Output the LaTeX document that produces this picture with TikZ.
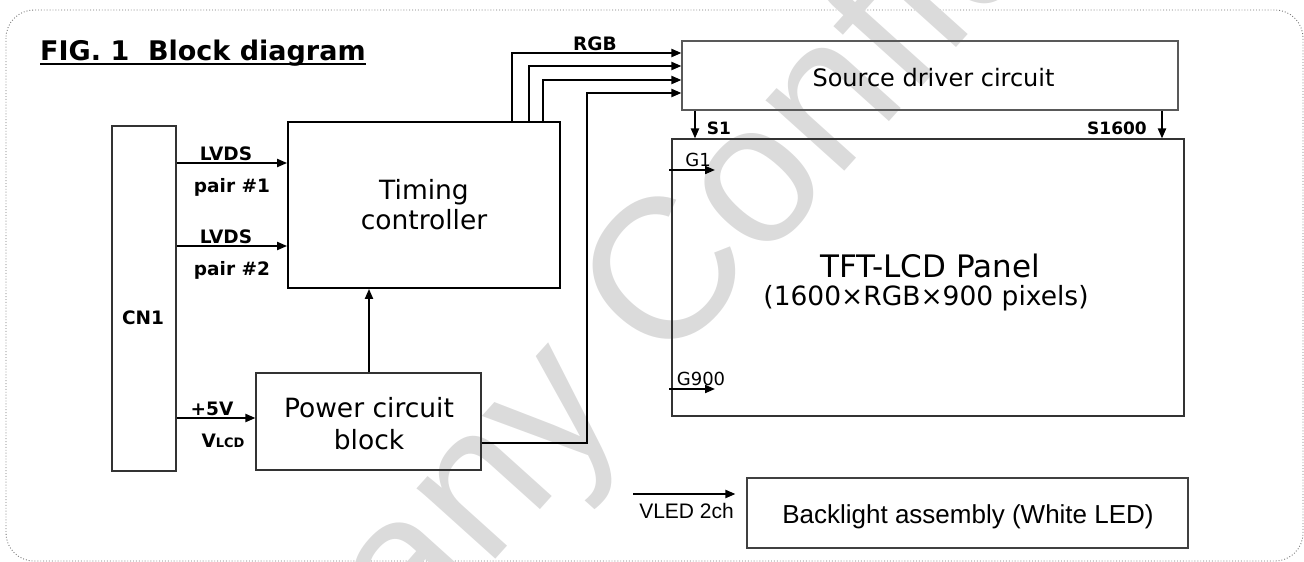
\documentclass[tikz,border=0pt]{standalone}
\usepackage{fontspec}
\setmainfont{DejaVu Sans}
\newfontfamily\arialf{Liberation Sans}
\usetikzlibrary{arrows.meta}
\begin{document}
\begin{tikzpicture}[x=1pt,y=-1pt,
  box/.style={draw=black!80, line width=1.1pt, inner sep=0pt},
  conn/.style={line width=2pt},
  arr/.style={conn, -{Triangle[length=10pt,width=8pt]}},
  lbl/.style={font=\fontsize{18.5}{20}\selectfont\bfseries, inner sep=0pt, anchor=base},
  gl/.style={font=\fontsize{18}{19}\selectfont, inner sep=0pt, anchor=base},
  txt/.style={inner sep=0pt, anchor=base},
]
\useasboundingbox (0,0) rectangle (1304,562);
\draw[black!55, dotted, line width=0.9pt, rounded corners=28pt] (6,10) rectangle (1303,561);

% watermark (light grey, behind the drawing)
\node[txt, anchor=base west, font=\arialf\fontsize{200}{200}\selectfont, text=black!14, rotate=48] (wm) at (55,1049) {Company Confidential};

% title
\node[txt, anchor=base west, font=\fontsize{27}{29}\selectfont\bfseries] (title) at (40,60) {FIG.\ 1\ \ Block diagram};
\draw[line width=1.4pt] ([yshift=-4pt]title.base west) -- ([yshift=-4pt]title.base east);

% boxes
\node[box, minimum width=64pt, minimum height=345pt] (cn1) at (144,298.5) {};
\node[lbl] (cn1t) at (143,324) {CN1};

\node[box, draw=black, line width=1.8pt, minimum width=272pt, minimum height=166pt] (tim) at (424,205) {};
\node[txt, font=\fontsize{26.5}{28}\selectfont] (tim1) at (424,199) {Timing};
\node[txt, font=\fontsize{26.5}{28}\selectfont] (tim2) at (424,229) {controller};

\node[box, minimum width=225pt, minimum height=97pt] (pow) at (368.5,421.5) {};
\node[txt, font=\fontsize{26.5}{28}\selectfont] (pow1) at (369,417) {Power circuit};
\node[txt, font=\fontsize{26.5}{28}\selectfont] (pow2) at (369,449) {block};

\node[box, draw=black!65, minimum width=496pt, minimum height=69pt] (src) at (930,75.5) {};
\node[txt, font=\fontsize{24}{26}\selectfont] (srct) at (933.5,86) {Source driver circuit};

\node[box, minimum width=512pt, minimum height=277pt] (tft) at (928,277.5) {};
\node[txt, font=\fontsize{31}{33}\selectfont] (tft1) at (930,277) {TFT-LCD Panel};
\node[txt, font=\fontsize{26.5}{28}\selectfont] (tft2) at (926,305) {(1600×RGB×900 pixels)};

\node[box, draw=black!75, minimum width=441pt, minimum height=70pt] (bl) at (967.5,513) {};
\node[txt, font=\arialf\fontsize{26}{28}\selectfont] (blt) at (968,523) {Backlight assembly (White LED)};

% CN1 -> timing / power
\coordinate (l1) at (0,163);
\coordinate (l2) at (0,246);
\coordinate (l5) at (0,418);
\draw[arr] (cn1.east |- l1) -- (tim.west |- l1);
\draw[arr] (cn1.east |- l2) -- (tim.west |- l2);
\draw[arr] (cn1.east |- l5) -- (pow.west |- l5);
\node[lbl] (lv1) at (226,160) {LVDS};
\node[lbl] (pr1) at (232,192) {pair \#1};
\node[lbl] (lv2) at (226,243) {LVDS};
\node[lbl] (pr2) at (232,275) {pair \#2};
\node[lbl] (p5v) at (212,415) {+5V};
\node[lbl] (vlcd) at (223,447) {V{\fontsize{13}{14}\selectfont LCD}};

% power -> timing
\coordinate (pv) at (369,0);
\draw[arr] (pow.north -| pv) -- (tim.south -| pv);

% RGB buses
\coordinate (r1) at (512,53);
\coordinate (r2) at (529,66);
\coordinate (r3) at (543,80);
\coordinate (r4) at (587,93);
\draw[arr] (tim.north -| r1) -- (r1) -- (src.west |- r1);
\draw[arr] (tim.north -| r2) -- (r2) -- (src.west |- r2);
\draw[arr] (tim.north -| r3) -- (r3) -- (src.west |- r3);
\coordinate (po) at (0,443);
\draw[arr] (pow.east |- po) -- (r4 |- po) -- (r4) -- (src.west |- r4);
\node[lbl] (rgb) at (595,50) {RGB};

% source -> panel
\coordinate (s1) at (695,0);
\coordinate (s2) at (1162,0);
\draw[arr] (src.south -| s1) -- (tft.north -| s1);
\draw[arr] (src.south -| s2) -- (tft.north -| s2);
\node[lbl, font=\fontsize{17}{19}\selectfont\bfseries] (s1t) at (719,134) {S1};
\node[lbl, font=\fontsize{17}{19}\selectfont\bfseries] (s2t) at (1117,134) {S1600};

% gate lines
\coordinate (g1) at (715,170);
\coordinate (g2) at (715,389);
\draw[arr] ([xshift=-2pt]tft.west |- g1) -- (g1);
\draw[arr] ([xshift=-2pt]tft.west |- g2) -- (g2);
\node[gl] (g1t) at (698,166) {G1};
\node[gl] (g2t) at (701,385) {G900};

% VLED
\coordinate (vled) at (633,494);
\draw[arr] (vled) -- ([xshift=-11pt]bl.west |- vled);
\node[txt, anchor=base east, font=\arialf\fontsize{21}{22}\selectfont] (vledt) at (734,518) {VLED 2ch};
\end{tikzpicture}
\end{document}
